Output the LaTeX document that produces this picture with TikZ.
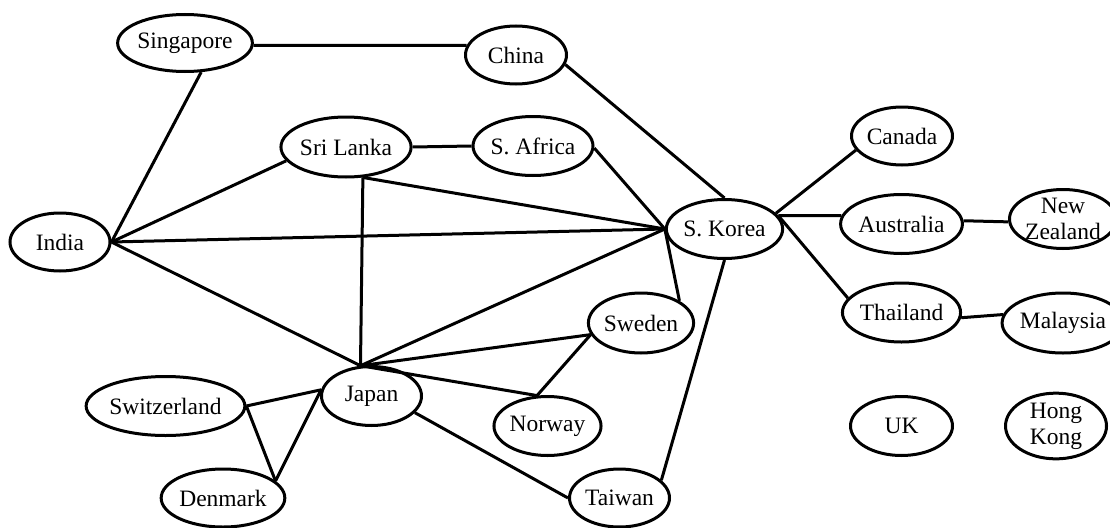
\documentclass[tikz,border=0pt]{standalone}
\usepackage{fontspec}
\setmainfont{Liberation Serif}
\usetikzlibrary{shapes.geometric}
\begin{document}
\begin{tikzpicture}[x=1pt,y=-1pt,
  country/.style={draw=black,line width=3pt,ellipse,inner sep=0pt,align=center,
    font=\fontsize{23.5}{27}\selectfont},
  link/.style={draw=black,line width=3pt}]
\useasboundingbox (0,0) rectangle (1110,527);
\node[country,minimum width=120pt,minimum height=57pt] (sing) at (185,43) {Singapore};
\node[country,minimum width=101pt,minimum height=58pt] (china) at (516,55) {China};
\node[country,minimum width=111pt,minimum height=60pt] (srilanka) at (346,147) {Sri Lanka};
\node[country,minimum width=114pt,minimum height=59pt] (safrica) at (533,146) {S. Africa};
\node[country,minimum width=101pt,minimum height=58pt] (canada) at (902,136) {Canada};
\node[country,minimum width=100pt,minimum height=58pt] (india) at (60,242) {India};
\node[country,minimum width=100pt,minimum height=59pt] (skorea) at (724.5,229) {S. Korea};
\node[country,minimum width=102pt,minimum height=59pt] (australia) at (901.5,224) {Australia};
\node[country,minimum width=91pt,minimum height=59pt] (nz) at (1063,219) {New\\[-1pt]Zealand};
\node[country,minimum width=101pt,minimum height=60pt] (sweden) at (641,323) {Sweden};
\node[country,minimum width=102pt,minimum height=59pt] (thailand) at (901.5,312.5) {Thailand};
\node[country,minimum width=91pt,minimum height=60pt] (malaysia) at (1063,323) {Malaysia};
\node[country,minimum width=100pt,minimum height=59pt] (japan) at (371.5,396) {Japan};
\node[country,minimum width=140pt,minimum height=59pt] (switz) at (165.5,406) {Switzerland};
\node[country,minimum width=100pt,minimum height=59pt] (norway) at (547.5,426) {Norway};
\node[country,minimum width=102pt,minimum height=59pt] (uk) at (901.5,426) {UK};
\node[country,minimum width=101pt,minimum height=59pt] (hk) at (1056,426) {Hong\\[-1pt]Kong};
\node[country,minimum width=115pt,minimum height=58pt] (denmark) at (223,498) {Denmark};
\node[country,minimum width=100pt,minimum height=58pt] (taiwan) at (619.5,498) {Taiwan};

\draw[link] (sing.-2) -- (china.169);
\draw[link] (sing.-61) -- (india.east);
\draw[link] (china.-11) -- (skorea.north);
\draw[link] (srilanka.east) -- (safrica.west);
\draw[link] (india.east) -- (srilanka.193);
\draw[link] (srilanka.-61) -- (skorea.west);
\draw[link] (srilanka.-61) -- (japan.110);
\draw[link] (safrica.-2) -- (skorea.west);
\draw[link] (india.east) -- (skorea.west);
\draw[link] (india.east) -- (japan.110);
\draw[link] (japan.110) -- (skorea.west);
\draw[link] (japan.110) -- (sweden.193);
\draw[link] (japan.110) -- (norway.109);
\draw[link] (skorea.west) -- (sweden.30);
\draw[link] (sweden.193) -- (norway.109);
\draw[link] (skorea.south) -- (taiwan.23);
\draw[link] (japan.-21) -- (taiwan.west);
\draw[link] (japan.173) -- (switz.east);
\draw[link] (japan.173) -- (denmark.18);
\draw[link] (switz.east) -- (denmark.18);
\draw[link] (skorea.17) -- (canada.197);
\draw[link] (skorea.14) -- (australia.172);
\draw[link] (skorea.14) -- (thailand.165);
\draw[link] (australia.3) -- (nz.183);
\draw[link] (thailand.-5) -- (malaysia.172);
\end{tikzpicture}
\end{document}
